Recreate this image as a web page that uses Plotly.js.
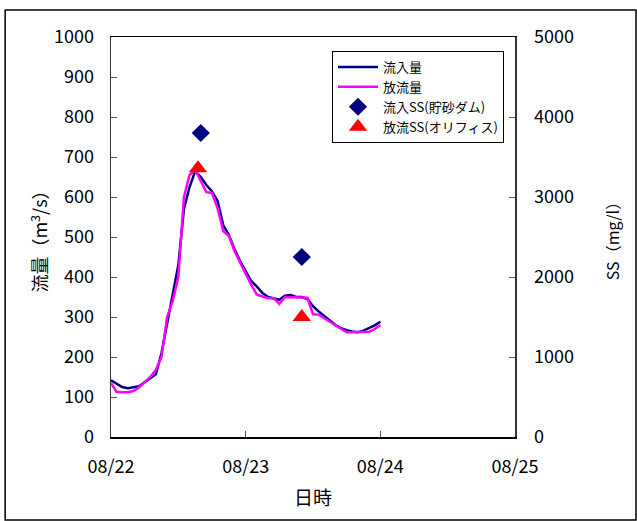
<!DOCTYPE html>
<html>
<head>
<meta charset="utf-8">
<script src="https://cdn.plot.ly/plotly-3.0.1.min.js"></script>
<style>html,body{margin:0;padding:0;background:#fff;}#chart{width:637px;height:521px;}</style>
</head>
<body>
<div id="chart"></div>
<script>
// hourly series starting 08/22 00:00
const startTime = '2007-08-22T00:00:00';
const inflow = [142,133,125,122,124,127,137,148,157,210,285,360,430,570,625,665,650,630,614,590,530,505,470,440,415,390,376,360,350,347,343,353,355,350,350,345,327,314,303,292,280,272,267,264,262,266,272,279,288];
const outflow = [135,113,112,112,115,124,137,150,168,200,300,340,400,600,655,668,640,612,610,572,515,503,465,437,405,380,356,352,347,347,333,350,350,350,349,348,307,306,297,288,278,270,262,262,262,262,263,270,280];
const inSSTimes = ['2007-08-22T16:00:00','2007-08-23T10:00:00'];
const inSS = [3800,2250];
const outSSTimes = ['2007-08-22T15:30:00','2007-08-23T10:00:00'];
const outSS = [3360,1500];
const seriesNames = ['流入量','放流量','流入SS(貯砂ダム)','放流SS(オリフィス)'];

const t0 = new Date(startTime + 'Z').getTime();
const times = inflow.map((_, i) => new Date(t0 + i * 3600000).toISOString().slice(0,19));

const font = 'Noto Sans CJK JP, sans-serif';
const traces = [
  {x: times, y: inflow, name: seriesNames[0], mode: 'lines', line: {color: '#000080', width: 2.5}},
  {x: times, y: outflow, name: seriesNames[1], mode: 'lines', line: {color: '#FF00FF', width: 2.5}},
  {x: inSSTimes, y: inSS, name: seriesNames[2], mode: 'markers', yaxis: 'y2',
   marker: {symbol: 'diamond', color: '#000080', size: 14}},
  {x: outSSTimes, y: outSS, name: seriesNames[3], mode: 'markers', yaxis: 'y2',
   marker: {symbol: 'triangle-up', color: '#FF0000', size: 16}}
];

const layout = {
  width: 637, height: 521,
  margin: {l: 111, r: 122, t: 37, b: 84},
  paper_bgcolor: '#fff', plot_bgcolor: '#fff',
  font: {family: font, size: 16, color: '#000'},
  showlegend: true,
  legend: {x: 0.547, y: 0.965, xanchor: 'left', yanchor: 'top', bordercolor: '#000', borderwidth: 1,
           bgcolor: '#fff', font: {size: 13, family: font}, tracegroupgap: 0, itemwidth: 40},
  xaxis: {type: 'date', range: ['2007-08-22', '2007-08-25'], dtick: 86400000, tickformat: '%m/%d',
          showgrid: false, zeroline: false, showline: true, linecolor: '#000', linewidth: 1.5,
          mirror: true, ticks: 'inside', ticklen: 6, tickcolor: '#555',
          tickfont: {size: 18}, ticklabelstandoff: 13,
          title: {text: '日時', font: {size: 19}, standoff: 14}},
  yaxis: {range: [0, 1000], dtick: 100, showgrid: false, zeroline: false, showline: true,
          linecolor: '#333', linewidth: 1.5, ticks: 'inside', ticklen: 6, tickcolor: '#555',
          tickfont: {size: 18}, ticklabelstandoff: 12,
          title: {text: '流量（m<sup>3</sup>/s）', font: {size: 18}, standoff: 1}},
  yaxis2: {range: [0, 5000], dtick: 1000, overlaying: 'y', side: 'right', showgrid: false, zeroline: false,
           showline: true, linecolor: '#333', linewidth: 1.5, ticks: 'inside', ticklen: 6, tickcolor: '#555',
           tickfont: {size: 18}, ticklabelstandoff: 14,
           title: {text: 'SS（mg/l）', font: {size: 16}, standoff: 34}},
  shapes: [{type: 'rect', xref: 'paper', yref: 'paper', x0: -0.262, x1: 1.2995, y0: -0.2075, y1: 1.0675,
            line: {color: '#000', width: 1.5}, fillcolor: 'rgba(0,0,0,0)', layer: 'below'}]
};

Plotly.newPlot('chart', traces, layout, {displayModeBar: false, staticPlot: true});
</script>
</body>
</html>
